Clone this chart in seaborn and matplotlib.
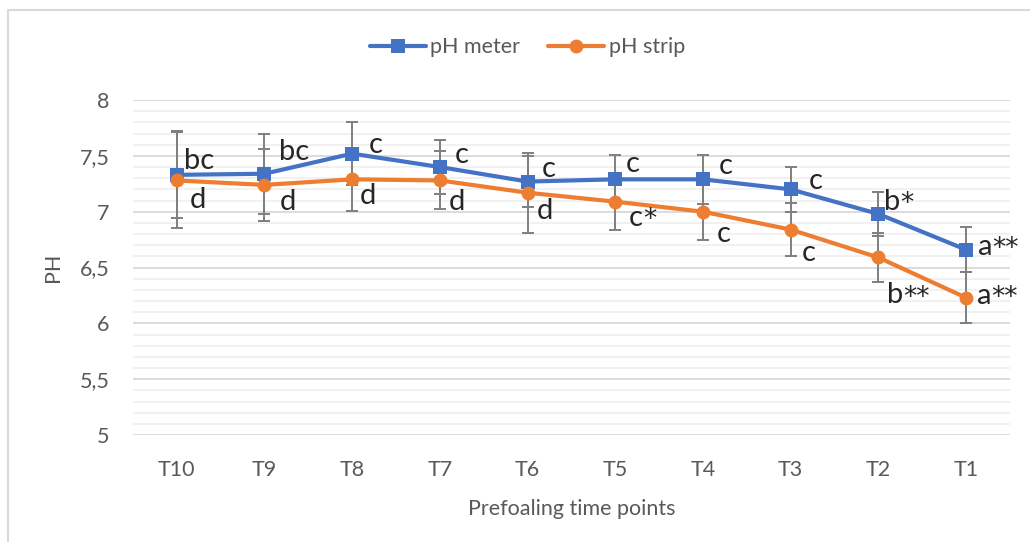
import matplotlib
matplotlib.use("Agg")
import matplotlib.pyplot as plt
import matplotlib.ticker as mticker
import seaborn as sns
from matplotlib.patches import Rectangle

# values
time_points = ["T10", "T9", "T8", "T7", "T6", "T5", "T4", "T3", "T2", "T1"]
ph_meter = [7.33, 7.34, 7.52, 7.40, 7.27, 7.29, 7.29, 7.20, 6.98, 6.66]
ph_meter_err = [0.39, 0.36, 0.28, 0.24, 0.23, 0.22, 0.22, 0.20, 0.20, 0.20]
ph_strip = [7.28, 7.24, 7.29, 7.28, 7.17, 7.09, 7.00, 6.84, 6.59, 6.23]
ph_strip_err = [0.43, 0.32, 0.28, 0.26, 0.36, 0.25, 0.25, 0.24, 0.22, 0.23]
meter_labels = ["bc", "bc", "c", "c", "c", "c", "c", "c", "b*", "a**"]
strip_labels = ["d", "d", "d", "d", "d", "c*", "c", "c", "b**", "a**"]

# label placement (pixels from the point)
meter_dx = [7, 15, 17, 15, 14, 11, 16, 18, 6, 12]
meter_dy = [14, 22, 9, 12, 13, 15, 13, 8, 12, 3]
strip_dx = [13, 15, 8, 9, 9, 14, 14, 11, 9, 11]
strip_dy = [-20, -17, -17, -22, -18, -16, -22, -23, -38, 2]

BLUE = "#4472C4"
ORANGE = "#ED7D31"
GREY = "#595959"
FS = 15.5

sns.set_theme(style="white")
plt.rcParams["font.family"] = ["Lato", "DejaVu Sans"]

fig = plt.figure(figsize=(10.3, 5.42), dpi=100)
ax = fig.add_axes([0.129, 0.1974, 0.8515, 0.618])

ax.errorbar(time_points, ph_meter, yerr=ph_meter_err, fmt="none",
            ecolor="#7f7f7f", elinewidth=1.4, capsize=4.5, capthick=1.4, zorder=2)
ax.errorbar(time_points, ph_strip, yerr=ph_strip_err, fmt="none",
            ecolor="#7f7f7f", elinewidth=1.4, capsize=4.5, capthick=1.4, zorder=2)

sns.lineplot(x=time_points, y=ph_meter, ax=ax, sort=False, color=BLUE,
             marker="s", markersize=9.5, markeredgewidth=0, linewidth=3,
             label="pH meter", zorder=3)
sns.lineplot(x=time_points, y=ph_strip, ax=ax, sort=False, color=ORANGE,
             marker="o", markersize=10, markeredgewidth=0, linewidth=3,
             label="pH strip", zorder=4)


def put_label(text, i, y, dx, dy):
    base = text.rstrip("*")
    stars = text[len(base):]
    t = ax.annotate(base, (i, y), xytext=(dx, dy), textcoords="offset pixels",
                    ha="left", va="center", fontsize=21, color="#262626", zorder=5)
    if stars:
        ax.annotate(stars, xy=(1, 0.92), xycoords=t, ha="left", va="top",
                    fontsize=19, family="DejaVu Sans", color="#262626", zorder=5)


for i in range(len(time_points)):
    put_label(meter_labels[i], i, ph_meter[i], meter_dx[i], meter_dy[i])
    put_label(strip_labels[i], i, ph_strip[i], strip_dx[i], strip_dy[i])

ax.set_xlim(-0.5, len(time_points) - 0.5)
ax.set_ylim(5, 8)
ax.yaxis.set_major_locator(mticker.MultipleLocator(0.5))
ax.yaxis.set_minor_locator(mticker.MultipleLocator(0.1))
ax.yaxis.set_major_formatter(mticker.FuncFormatter(lambda v, p: f"{v:g}".replace(".", ",")))
ax.grid(which="major", axis="y", color="#d9d9d9", linewidth=1.3, zorder=0)
ax.grid(which="minor", axis="y", color="#f0f0f0", linewidth=1.3, zorder=0)
ax.grid(which="major", axis="x", visible=False)
ax.set_axisbelow(True)
for s in ax.spines.values():
    s.set_visible(False)

ax.tick_params(axis="both", which="both", length=0, labelsize=FS, labelcolor=GREY)
ax.tick_params(axis="x", pad=18)
ax.tick_params(axis="y", pad=17)

ax.set_xlabel("Prefoaling time points", fontsize=FS, color=GREY, labelpad=14)
ax.set_ylabel("PH", fontsize=FS, color=GREY, labelpad=12)

leg = ax.legend(loc="center", bbox_to_anchor=(0.45, 1.158), ncol=2, frameon=False,
                fontsize=FS, handlelength=2.6, handletextpad=0.2, columnspacing=1.3)
for txt in leg.get_texts():
    txt.set_color(GREY)

fig.patches.append(Rectangle((7.5 / 1030, -0.1), 1.2, 1.1 - 10 / 542, fill=False,
                             edgecolor="#d9d9d9", linewidth=1.5,
                             transform=fig.transFigure, figure=fig))

fig.savefig("out.png", dpi=100, facecolor="white")
